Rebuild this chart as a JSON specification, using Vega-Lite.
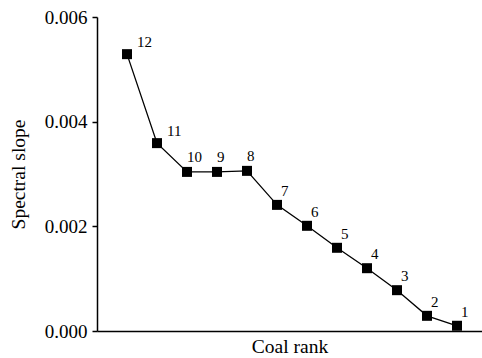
{
  "$schema": "https://vega.github.io/schema/vega-lite/v6.json",
  "width": 385,
  "height": 314,
  "autosize": "none",
  "padding": {"left": 97, "top": 17, "right": 0, "bottom": 27},
  "background": "white",
  "config": {
    "view": {"stroke": null},
    "font": "Liberation Serif"
  },
  "data": {
    "values": [
      {"rank": 12, "slope": 0.00529},
      {"rank": 11, "slope": 0.00359},
      {"rank": 10, "slope": 0.00304},
      {"rank": 9, "slope": 0.00304},
      {"rank": 8, "slope": 0.00306},
      {"rank": 7, "slope": 0.00241},
      {"rank": 6, "slope": 0.00201},
      {"rank": 5, "slope": 0.00159},
      {"rank": 4, "slope": 0.00120},
      {"rank": 3, "slope": 0.00078},
      {"rank": 2, "slope": 0.00029},
      {"rank": 1, "slope": 0.00010}
    ]
  },
  "encoding": {
    "x": {
      "field": "rank",
      "type": "quantitative",
      "scale": {"domain": [0.1667, 13], "reverse": true, "nice": false, "zero": false},
      "axis": {
        "title": "Coal rank",
        "titleFont": "Liberation Serif",
        "titleFontSize": 19.5,
        "titleFontWeight": "normal",
        "titleColor": "black",
        "titlePadding": 6,
        "labels": false,
        "ticks": false,
        "grid": false,
        "domainColor": "black",
        "domainWidth": 1.5
      }
    },
    "y": {
      "field": "slope",
      "type": "quantitative",
      "scale": {"domain": [0, 0.006], "nice": false},
      "axis": {
        "title": "Spectral slope",
        "titleFont": "Liberation Serif",
        "titleFontSize": 19.5,
        "titleFontWeight": "normal",
        "titleColor": "black",
        "titlePadding": 16,
        "values": [0, 0.002, 0.004, 0.006],
        "format": ".3f",
        "labelFont": "Liberation Serif",
        "labelFontSize": 19,
        "labelColor": "black",
        "labelPadding": 5,
        "tickSize": 5,
        "tickColor": "black",
        "tickWidth": 1.5,
        "grid": false,
        "domainColor": "black",
        "domainWidth": 1.5
      }
    }
  },
  "layer": [
    {"mark": {"type": "line", "color": "black", "strokeWidth": 1.3}},
    {"mark": {"type": "square", "color": "black", "opacity": 1, "filled": true, "size": 100}},
    {
      "transform": [{"filter": "datum.rank >= 11"}],
      "mark": {"type": "text", "align": "left", "baseline": "alphabetic", "dx": 10, "dy": -7, "fontSize": 15, "font": "Liberation Serif", "fill": "black"},
      "encoding": {"text": {"field": "rank", "type": "nominal"}}
    },
    {
      "transform": [{"filter": "datum.rank <= 10 && datum.rank >= 8"}],
      "mark": {"type": "text", "align": "left", "baseline": "alphabetic", "dx": 0, "dy": -10, "fontSize": 15, "font": "Liberation Serif", "fill": "black"},
      "encoding": {"text": {"field": "rank", "type": "nominal"}}
    },
    {
      "transform": [{"filter": "datum.rank <= 7"}],
      "mark": {"type": "text", "align": "left", "baseline": "alphabetic", "dx": 4, "dy": -9, "fontSize": 15, "font": "Liberation Serif", "fill": "black"},
      "encoding": {"text": {"field": "rank", "type": "nominal"}}
    }
  ]
}
